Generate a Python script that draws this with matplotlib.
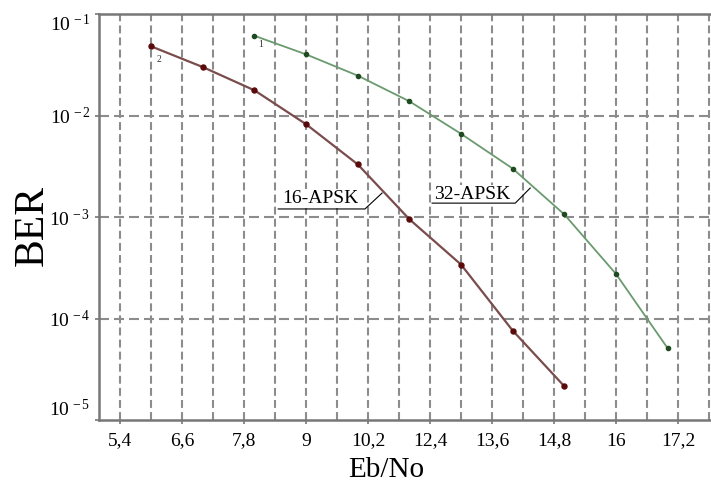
import matplotlib
matplotlib.use("Agg")
import matplotlib.pyplot as plt
from matplotlib.ticker import FixedLocator, NullLocator

plt.rcParams['font.family'] = ['Liberation Serif', 'DejaVu Serif']
plt.rcParams['mathtext.fontset'] = 'custom'
plt.rcParams['mathtext.rm'] = 'Liberation Serif'
plt.rcParams['mathtext.it'] = 'Liberation Serif:italic'

# x tick positions on the drawn axis and the labels printed under them
tick_pos = [5.4, 6.6, 7.8, 9.0, 10.2, 11.4, 12.6, 13.8, 15.0, 16.2]
tick_labels = ['5,4', '6,6', '7,8', '9', '10,2', '12,4', '13,6', '14,8', '16', '17,2']
grid_pos = [5.4 + 0.6 * i for i in range(20)]

# 16-APSK (curve 2)
x16 = [6, 7, 8, 9, 10, 11, 12, 13, 14]
ber16 = [4.8e-2, 3.0e-2, 1.77e-2, 8.2e-3, 3.3e-3, 9.5e-4, 3.4e-4, 7.6e-5, 2.15e-5]

# 32-APSK (curve 1)
x32 = [8, 9, 10, 11, 12, 13, 14, 15, 16]
ber32 = [6.1e-2, 4.0e-2, 2.47e-2, 1.38e-2, 6.6e-3, 3.0e-3, 1.06e-3, 2.75e-4, 5.1e-5]

fig = plt.figure(figsize=(7.11, 4.84), dpi=100)
ax = fig.add_axes([99 / 711, 64 / 484, 612 / 711, 406 / 484])

ax.set_yscale('log')
ax.set_xlim(4.99, 16.84)
ax.set_ylim(1e-5, 1e-1)

# grid
for g in grid_pos:
    ax.axvline(g, color='#8c8c8c', lw=1.5, dashes=(3.8, 2.0), zorder=1)
for d in [1e-4, 1e-3, 1e-2]:
    ax.axhline(d, color='#8c8c8c', lw=1.5, dashes=(4.8, 2.4), zorder=1)

ax.plot(x16, ber16, color='#7a4c4c', lw=1.6, marker='o', ms=3.6,
        mfc='#5a0a0a', mec='#5a0a0a', zorder=3)
ax.plot(x32, ber32, color='#6a9a6e', lw=1.3, marker='o', ms=3.0,
        mfc='#1f4a22', mec='#1f4a22', zorder=3)

ax.text(6.1, 3.4e-2, '2', fontsize=7, color='#333333')
ax.text(8.07, 4.75e-2, '1', fontsize=7, color='#333333')

# curve labels with leader lines
box = dict(facecolor='white', edgecolor='none', pad=0.5)
ax.text(8.53, 1.37e-3, '16-APSK', fontsize=14, va='baseline', ha='left', bbox=box, zorder=4)
ax.plot([8.46, 10.14, 10.47], [1.2e-3, 1.2e-3, 1.72e-3], color='black', lw=0.8, zorder=4)
ax.text(11.48, 1.5e-3, '32-APSK', fontsize=14, va='baseline', ha='left', bbox=box, zorder=4)
ax.plot([11.44, 13.05, 13.34], [1.37e-3, 1.37e-3, 1.93e-3], color='black', lw=0.8, zorder=4)

ax.xaxis.set_major_locator(FixedLocator(tick_pos))
ax.xaxis.set_minor_locator(NullLocator())
ax.set_xticklabels(tick_labels)
ax.yaxis.set_major_locator(FixedLocator([1e-5, 1e-4, 1e-3, 1e-2, 1e-1]))
ax.yaxis.set_minor_locator(NullLocator())
ylabels = ax.set_yticklabels([r'10$^{\,-5}$', r'10$^{\,-4}$', r'10$^{\,-3}$',
                              r'10$^{\,-2}$', r'10$^{\,-1}$'])
ylabels[0].set_va('bottom')
ylabels[-1].set_va('top')

ax.tick_params(axis='x', length=3, width=1.2, color='#777777', pad=6, labelsize=14)
ax.tick_params(axis='y', length=3, width=1.2, color='#777777', pad=3, labelsize=14)

for s in ['left', 'bottom', 'top']:
    ax.spines[s].set_color('#777777')
    ax.spines[s].set_linewidth(1.8)
ax.spines['right'].set_visible(False)

ax.set_ylabel('BER', fontsize=30)
ax.yaxis.set_label_coords(-0.078, 0.48)
ax.set_xlabel('Eb/No', fontsize=21)
ax.xaxis.set_label_coords(0.47, -0.09)

fig.savefig('out.png', dpi=100)
